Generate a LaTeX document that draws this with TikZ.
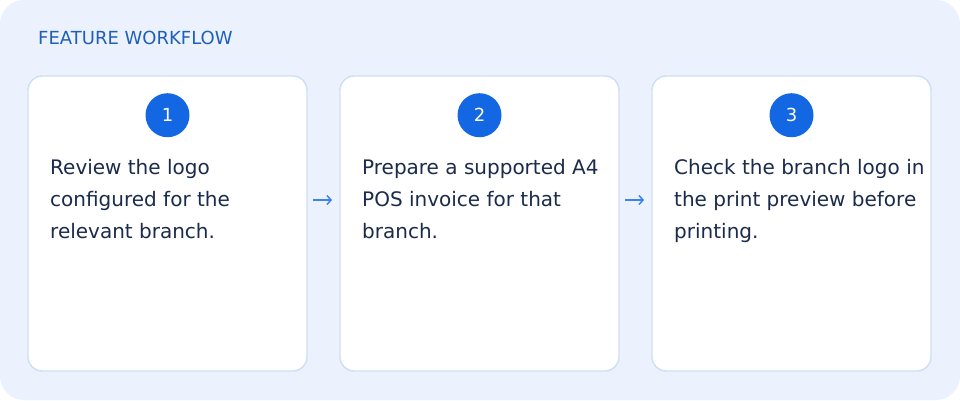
\documentclass[tikz,border=0pt]{standalone}
\usepackage{fontspec}
\setmainfont{DejaVu Sans}
\usetikzlibrary{arrows.meta,positioning}
\definecolor{panelbg}{HTML}{EBF2FD}
\definecolor{cardline}{HTML}{D0DEF3}
\definecolor{badgeblue}{HTML}{1467E2}
\definecolor{titleblue}{HTML}{1F5FBA}
\definecolor{bodyink}{HTML}{1B2B4B}
\definecolor{arrowblue}{HTML}{3B82F0}

\begin{document}
\begin{tikzpicture}[x=1pt,y=-1pt,
  card/.style={draw=cardline,line width=1.4pt,fill=white,rounded corners=14pt,minimum width=279pt,minimum height=295pt,inner sep=0pt,outer sep=0pt},
  num/.style={circle,fill=badgeblue,minimum size=44pt,inner sep=0pt,text=white,font=\fontsize{18}{18}\selectfont},
  body/.style={align=left,text=bodyink,font=\fontsize{20}{32}\selectfont,inner sep=0pt},
  head/.style={text=titleblue,font=\fontsize{18}{20}\selectfont,inner sep=0pt},
  flow/.style={-{Straight Barb[length=4pt,width=9pt]},arrowblue,line width=1.5pt,shorten <=6pt,shorten >=8pt}]
\fill[panelbg,rounded corners=24pt] (0,0) rectangle (960,400);
\useasboundingbox (0,0) rectangle (960,400);
\node[head,anchor=base west] (title) at (38,44) {FEATURE WORKFLOW};
\node[card] (s1) at (167.5,223.5) {};
\node[card,right=33pt of s1] (s2) {};
\node[card,right=33pt of s2] (s3) {};
\node[num,below=17pt of s1.north] (n1) {1};
\node[num,below=17pt of s2.north] (n2) {2};
\node[num,below=17pt of s3.north] (n3) {3};
\node[body,below=83pt of s1.north west,anchor=north west,xshift=22pt] (t1) {Review the logo\\configured for the\\relevant branch.};
\node[body,below=83pt of s2.north west,anchor=north west,xshift=22pt] (t2) {Prepare a supported A4\\POS invoice for that\\branch.};
\node[body,below=83pt of s3.north west,anchor=north west,xshift=22pt] (t3) {Check the branch logo in\\the print preview before\\printing.};
\foreach \a/\b in {s1/s2,s2/s3}{\draw[flow] ([yshift=23.5pt]\a.east) -- ([yshift=23.5pt]\b.west);}
\end{tikzpicture}
\end{document}
